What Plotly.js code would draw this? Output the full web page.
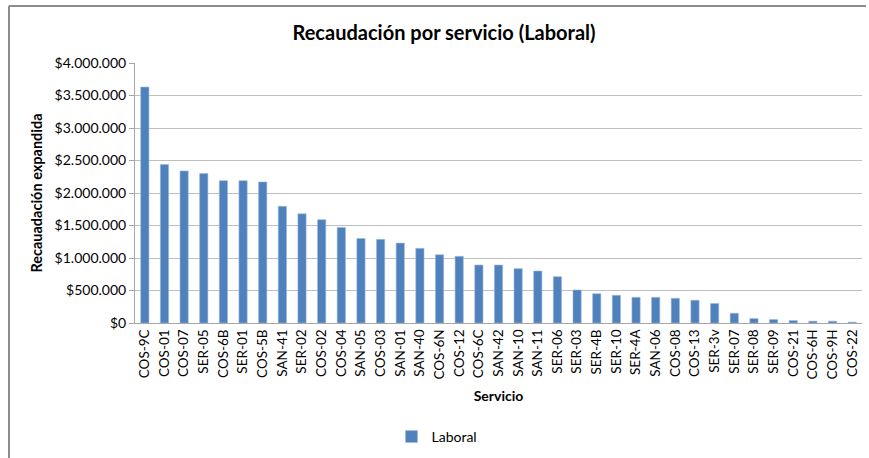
<!DOCTYPE html>
<html>
<head>
<meta charset="utf-8">
<script src="https://cdn.plot.ly/plotly-3.0.1.min.js"></script>
<style>html,body{margin:0;padding:0;background:#fff;overflow:hidden;}#chart{width:869px;height:458px;}</style>
</head>
<body>
<div id="chart"></div>
<script>
const categories = ["COS-9C","COS-01","COS-07","SER-05","COS-6B","SER-01","COS-5B","SAN-41","SER-02","COS-02","COS-04","SAN-05","COS-03","SAN-01","SAN-40","COS-6N","COS-12","COS-6C","SAN-42","SAN-10","SAN-11","SER-06","SER-03","SER-4B","SER-10","SER-4A","SAN-06","COS-08","COS-13","SER-3v","SER-07","SER-08","SER-09","COS-21","COS-6H","COS-9H","COS-22"];
const laboral = [3630000,2440000,2340000,2300000,2190000,2190000,2170000,1795000,1680000,1590000,1470000,1300000,1287000,1230000,1148000,1050000,1026000,892000,892000,836000,800000,713000,508000,451000,426000,395000,395000,380000,350000,300000,150000,68000,53000,38000,28000,28000,13000];
const seriesName = "Laboral";
const yTickVals = [0,500000,1000000,1500000,2000000,2500000,3000000,3500000,4000000];
const yTickText = yTickVals.map(v => "$" + String(v).replace(/\B(?=(\d{3})+(?!\d))/g, "."));

const FONT = "Lato, 'Open Sans', sans-serif";

const trace = {
  type: "bar",
  x: categories,
  y: laboral,
  name: seriesName,
  marker: {color: "#4F81BD", line: {color: "#9DB8DC", width: 0.6}},
  hoverinfo: "x+y"
};

const layout = {
  width: 869, height: 458,
  paper_bgcolor: "#ffffff", plot_bgcolor: "#ffffff",
  font: {family: FONT, color: "#000", size: 13},
  margin: {l: 135, r: 7, t: 63, b: 135},
  title: {text: "<b>Recaudación por servicio (Laboral)</b>", font: {family: FONT, size: 20, color: "#000"}, x: 444/869, xref: "container", xanchor: "center", y: 1 - 33/458, yref: "container", yanchor: "middle"},
  bargap: 0.58,
  xaxis: {
    type: "category",
    tickangle: -90,
    tickfont: {family: FONT, size: 13.5, color: "#000"},
    showgrid: false,
    showline: true, linecolor: "#a6a6a6", linewidth: 1,
    ticks: "", automargin: false,
    title: {text: "<b>Servicio</b>", font: {family: FONT, size: 14, color: "#000"}, standoff: 12}
  },
  yaxis: {
    range: [0, 4000000],
    tickmode: "array",
    tickvals: yTickVals,
    ticktext: yTickText,
    tickfont: {family: FONT, size: 14, color: "#000"},
    showgrid: true, gridcolor: "#bfbfbf", gridwidth: 1,
    showline: true, linecolor: "#a6a6a6", linewidth: 1,
    ticks: "outside", ticklen: 5, tickcolor: "#a6a6a6",
    zeroline: false, automargin: false,
    title: {text: "<b>Recauadación expandida</b>", font: {family: FONT, size: 14.5, color: "#000"}, standoff: 8}
  },
  showlegend: true,
  legend: {orientation: "h", xref: "container", yref: "container", x: 437/869, xanchor: "center", y: 1 - 437/458, yanchor: "middle", font: {family: FONT, size: 14, color: "#000"}},
  shapes: [
    {type: "line", xref: "paper", yref: "paper", x0: -126/727, x1: 1 + 4/727, y0: 1 + 57/260, y1: 1 + 57/260, line: {color: "#8c8c8c", width: 2}},
    {type: "line", xref: "paper", yref: "paper", x0: -126/727, x1: -126/727, y0: 1 + 57/260, y1: -135/260, line: {color: "#8c8c8c", width: 2}}
  ]
};

Plotly.newPlot("chart", [trace], layout, {displayModeBar: false, staticPlot: true});
</script>
</body>
</html>
